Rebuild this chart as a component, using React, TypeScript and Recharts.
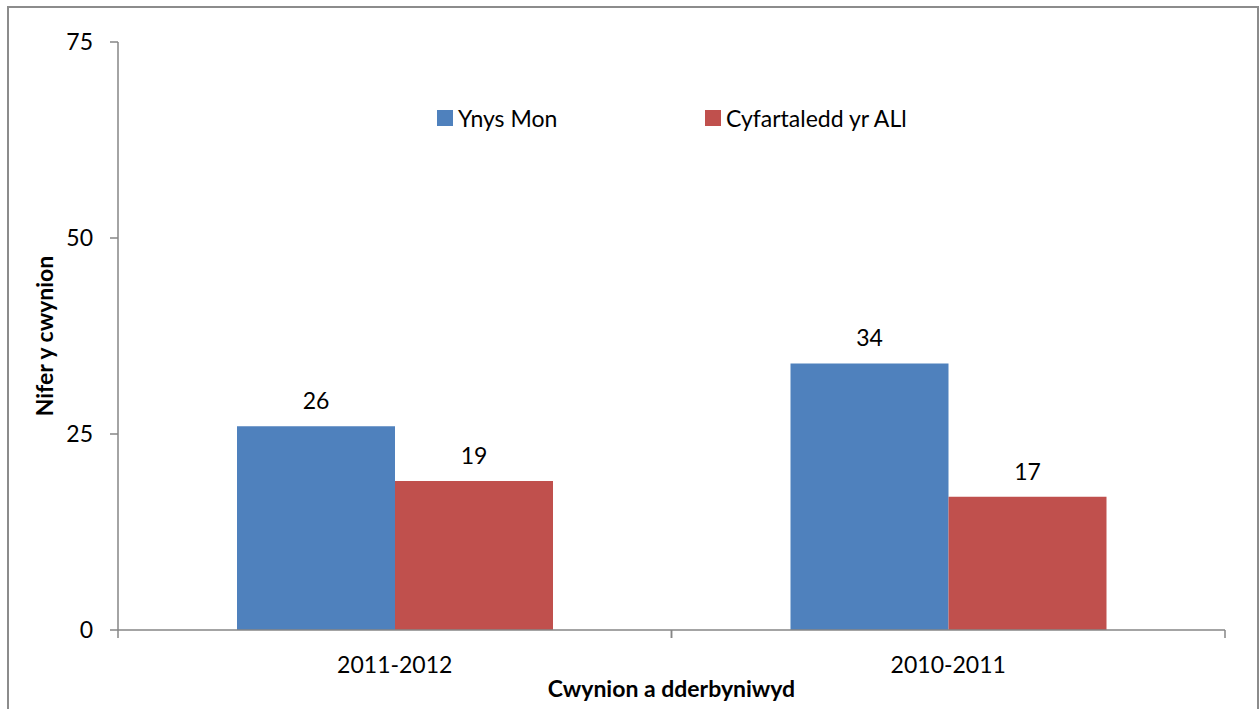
import React from 'react';
import { BarChart, Bar, XAxis, YAxis, Legend, LabelList } from 'recharts';

const categories = ['2011-2012', '2010-2011'];
const ynysMon = [26, 34];
const cyfartaledd = [19, 17];
const yTicks = [0, 25, 50, 75];
const seriesNames = ['Ynys Mon', 'Cyfartaledd yr ALl'];

const data = categories.map((c, i) => ({ name: c, a: ynysMon[i], b: cyfartaledd[i] }));

const AXIS = '#868686';
const FONT = 23;
const X_TICK_SIZE = 8;
const X_TICK_MARGIN = 19;

const XTick = (props: any) => {
  const { x, y, payload } = props;
  const half = payload?.offset ?? 0;
  const axisY = y - X_TICK_SIZE - X_TICK_MARGIN;
  return (
    <g>
      <line x1={x - half} x2={x - half} y1={axisY} y2={axisY + X_TICK_SIZE} stroke={AXIS} strokeWidth={1.5} />
      <line x1={x + half} x2={x + half} y1={axisY} y2={axisY + X_TICK_SIZE} stroke={AXIS} strokeWidth={1.5} />
      <text x={x} y={y} dy="0.71em" textAnchor="middle" fill="#000" fontSize={FONT}>
        {payload.value}
      </text>
    </g>
  );
};

const renderLegend = (props: any) => {
  const payload = [...(props.payload || [])].sort(
    (p: any, q: any) => seriesNames.indexOf(p.value) - seriesNames.indexOf(q.value)
  );
  return (
    <div style={{ display: 'flex', fontFamily: 'Lato' }}>
      {payload.map((e: any, i: number) => (
        <div key={i} style={{ display: 'flex', alignItems: 'center', width: i === 0 ? 268 : 'auto' }}>
          <span style={{ display: 'inline-block', width: 16, height: 16, background: e.color, marginRight: 5 }} />
          <span style={{ fontSize: FONT, color: '#000', lineHeight: '24px', whiteSpace: 'nowrap' }}>{e.value}</span>
        </div>
      ))}
    </div>
  );
};

const XLabel = (props: any) => {
  const vb = props.viewBox || {};
  const cx = vb.x + vb.width / 2;
  return (
    <text x={cx} y={697} textAnchor="middle" fontWeight="bold" fontSize={FONT} fill="#000">
      Cwynion a dderbyniwyd
    </text>
  );
};

const YLabel = (props: any) => {
  const vb = props.viewBox || {};
  const cy = vb.y + vb.height / 2;
  return (
    <text
      x={44}
      y={cy}
      transform={`rotate(-90, 44, ${cy})`}
      textAnchor="middle"
      dominantBaseline="central"
      fontWeight="bold"
      fontSize={FONT}
      fill="#000"
    >
      Nifer y cwynion
    </text>
  );
};

export default function App() {
  return (
    <div style={{ position: 'absolute', left: 0, top: 0, width: 1260, height: 709, overflow: 'hidden', background: '#fff', fontFamily: 'Lato' }}>
      <div style={{ position: 'absolute', left: 7, top: 6, width: 1248, height: 800, border: '2px solid #8c8c8c' }} />
      <div style={{ position: 'absolute', left: 0, top: 0 }}>
        <BarChart
          width={1260}
          height={709}
          data={data}
          margin={{ top: 42, right: 35, bottom: 9, left: 58 }}
          barCategoryGap="21.5%"
          barGap={0}
          style={{ fontFamily: 'Lato' }}
        >
          <XAxis
            dataKey="name"
            height={70}
            axisLine={{ stroke: AXIS, strokeWidth: 1.5 }}
            tickLine={false}
            tickSize={X_TICK_SIZE}
            tickMargin={X_TICK_MARGIN}
            tick={<XTick />}
            interval={0}
            label={<XLabel />}
          />
          <YAxis
            width={60}
            domain={[0, 75]}
            ticks={yTicks}
            interval={0}
            axisLine={{ stroke: AXIS, strokeWidth: 1.5 }}
            tickLine={{ stroke: AXIS, strokeWidth: 1.5 }}
            tickSize={8}
            tickMargin={17}
            tick={{ fill: '#000', fontSize: FONT }}
            label={<YLabel />}
          />
          <Legend
            layout="horizontal"
            verticalAlign="middle"
            align="center"
            content={renderLegend}
            wrapperStyle={{ top: 106, left: 437, width: 560 }}
          />
          <Bar dataKey="a" name={seriesNames[0]} fill="#4F81BD" isAnimationActive={false}>
            <LabelList dataKey="a" position="top" offset={17} fill="#000" fontSize={FONT} />
          </Bar>
          <Bar dataKey="b" name={seriesNames[1]} fill="#C0504D" isAnimationActive={false}>
            <LabelList dataKey="b" position="top" offset={17} fill="#000" fontSize={FONT} />
          </Bar>
        </BarChart>
      </div>
    </div>
  );
}
